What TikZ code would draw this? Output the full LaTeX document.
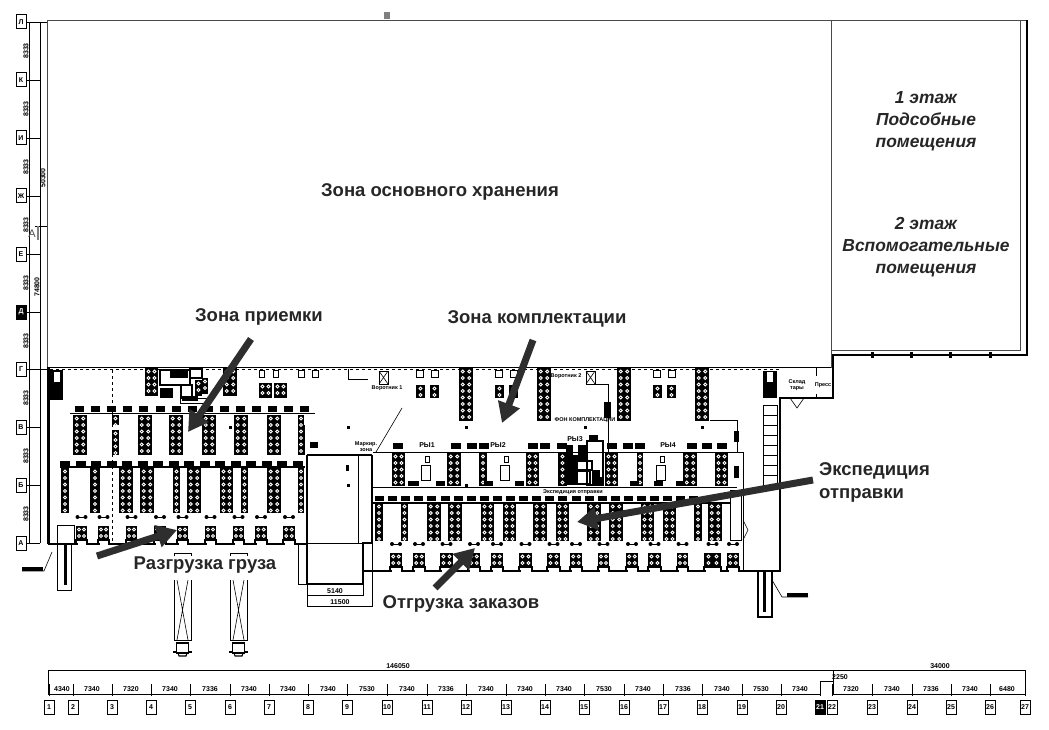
\documentclass[tikz,border=0pt]{standalone}
\usepackage{fontspec}
\setmainfont{Liberation Sans}
\usetikzlibrary{arrows.meta}

\definecolor{arrowgray}{HTML}{2E2E2E}
\definecolor{wallgray}{HTML}{4A4A4A}

\tikzset{
  zonelabel/.style = {font=\fontsize{18.5}{21}\selectfont\bfseries, text=black!85, inner sep=0pt},
  floorlabel/.style = {font=\fontsize{17.4}{19}\selectfont\bfseries\itshape, text=black!85, inner sep=0pt},
  tinylabel/.style = {font=\fontsize{5.5}{6}\selectfont\bfseries, inner sep=0pt},
  dimlabel/.style = {font=\fontsize{7}{8}\selectfont\bfseries, inner sep=0pt},
  axisbox/.style = {rectangle, draw, line width=1pt, minimum width=10pt, minimum height=14pt,
                    inner sep=0pt, font=\fontsize{7}{8}\selectfont\bfseries},
  axisdark/.style = {axisbox, fill=black, text=white},
  wall/.style = {line width=2.2pt, line join=miter},
  thinline/.style = {line width=0.6pt},
  bigarrow/.style = {line width=7pt, arrowgray, -{Triangle[length=20pt,width=22pt]}, shorten >=0pt}
}

% stack of pallets: x, y, width, height
\newcommand{\rackblock}[4]{%
  \fill (#1,#2) rectangle ++(#3,#4);
  \ifdim #3pt>10pt
    \foreach \dy in {3.5,10,...,#4}
      \foreach \dx in {0.27,0.73}
        \draw[white,line width=0.9pt] (#1+\dx*#3,#2+\dy) circle (1.5pt);
  \else
    \foreach \dy in {3.5,10,...,#4}
      \draw[white,line width=0.9pt] (#1+0.5*#3,#2+\dy) circle (1.5pt);
  \fi
}

% dock with its two posts and the step in the wall: x, y, width
\newcommand{\dockblock}[3]{%
  \fill[white] (#1+1.5,#2+15) rectangle ++(#3-3,5);
  \rackblock{#1}{#2}{#3}{15}
  \draw[line width=1.8pt] (#1,#2+13) -- (#1,#2+18) (#1+#3,#2+13) -- (#1+#3,#2+18);
  \fill (#1+0.5*#3-4,#2-9) circle (2pt) (#1+0.5*#3+4,#2-9) circle (2pt);
  \draw[thinline] (#1+0.5*#3-4,#2-9) -- (#1+0.5*#3+4,#2-9);
}

% truck at a gate
\newcommand{\truckbay}[1]{%
  \draw[thinline] (#1,556) -- (#1,553) -- (#1+17,553) -- (#1+17,556);
  \draw[thinline,line width=0.9pt] (#1,580) -- (#1,640) -- (#1+17,640) -- (#1+17,580);
  \draw[thinline] (#1+3,580) -- (#1+14,640) (#1+14,580) -- (#1+3,640);
  \draw[line width=1.1pt] (#1+2.5,643) rectangle (#1+14.5,653);
  \draw[line width=1.1pt] (#1+4,653) -- (#1+5,656) -- (#1+12,656) -- (#1+13,653);
  \draw[line width=1.1pt] (#1-1,652) -- (#1+2.5,652) (#1+14.5,652) -- (#1+18,652);
}

\begin{document}
\begin{tikzpicture}[x=1pt,y=-1pt]
  \useasboundingbox (0,0) rectangle (1049,730);

  % storage hall and side block
  \node[rectangle,
        draw = wallgray,
        line width = 0.8pt,
        outer sep = 0pt,
        minimum width = 784pt,
        minimum height = 347pt] (store) at (439,193.5) {};
  \node[zonelabel] at (440,192) {Зона основного хранения};

  \node[rectangle,
        draw = wallgray,
        line width = 0.8pt,
        outer sep = 0pt,
        minimum width = 189pt,
        minimum height = 330pt] (rooms) at (926,185) {};
  \node[floorlabel,align=center] (floorA) at (926,121) {1 этаж\\[3pt]Подсобные\\[3pt]помещения};
  \node[floorlabel,align=center] (floorB) at (926,247) {2 этаж\\[3pt]Вспомогательные\\[3pt]помещения};

  \draw[line width=0.8pt,wallgray] (rooms.north east) -- (1027,20);
  \draw[wall] (1027,20) -- (1027,355) -- (833,355) -- (833,398) -- (780,398) -- (780,571) -- (363,571);
  \foreach \x in {872,911,950,990}
    \fill (\x-1.5,352) rectangle ++(3,6);
  \fill[gray] (384,12) rectangle ++(6,7);

  % outer walls of the ground floor
  \draw[line width=0.7pt] (47,367) -- (47,544);
  \draw[wall] (49,367) -- (49,544) -- (308,544);
  \draw[wall] (307,455) -- (372,455);
  \draw[wall] (307,455) -- (307,584) -- (363,584) -- (363,543) -- (372,543) -- (372,455);
  \draw[thinline] (307,543) -- (363,543);
  \draw[thinline] (358,455) -- (358,543);
  \draw[thinline] (298,544) -- (298,584) -- (307,584);
  \draw[thinline] (307,584) -- (307,595) -- (363,595) -- (363,584);
  \draw[thinline] (307,595) -- (307,606) -- (372,606) -- (372,543);
  \node[dimlabel] (dimC) at (335,591) {5140};
  \node[dimlabel] (dimD) at (340,602) {11500};
  \fill (346,465) rectangle ++(3,6);
  \draw[dashed,line width=0.9pt] (50,369.5) -- (780,369.5);
  \draw[line width=0.8pt] (47,367) -- (831,367);
  \draw[dashed,thinline] (112,370) -- (112,543);
  \foreach \x/\y in {230/427,348/427,466/427,585/427,702/427,348/485,466/485}
    \fill (\x-1.5,\y-1.5) rectangle ++(3,3);

  % upper part, left
  \foreach \x/\w in {145/13,223/14}{
    \rackblock{\x}{368}{\w}{28}
  }
  \foreach \x/\w in {259/5,273/5,298/6,312/6}
    \draw[line width=1pt] (\x,370) rectangle ++(\w,7);
  \foreach \x in {259,274}{
    \rackblock{\x}{383}{13}{15}
  }
  \fill (50,370) rectangle (63,400);
  \fill[white] (54,372) rectangle (60,382);
  \fill (160,388) rectangle (173,398);
  \draw[line width=1.2pt] (160,370) rectangle (190,385);
  \fill (170,371) rectangle (188,378);
  \draw[line width=1.2pt] (190,369) rectangle (202,378);
  \draw[line width=1.2pt] (181,385) rectangle (192,398);
  \draw[line width=0.8pt] (180,398) rectangle (207,403);
  \fill (182,396) rectangle (198,401);
  \rackblock{195}{380}{7}{16}
  \rackblock{202}{378}{6}{16}

  % left zone, first row
  \draw[line width=1pt] (70,413) -- (315,413);
  \foreach \n in {0,...,14}
    \fill (75+\n*16.1,406) rectangle ++(9,6);
  \foreach \x/\w in {73/14,138/14,169/14,202/14,234/14,267/14,298/6}{
    \rackblock{\x}{415}{\w}{40}
  }
  \rackblock{112}{430}{7}{25}
  \rackblock{112}{415}{7}{10}

  % left zone, second row
  \draw[line width=2pt] (60,467) -- (305,467);
  \foreach \n in {0,...,15}
    \fill (60+\n*15.5,461) rectangle ++(10,5);
  \foreach \x/\w in {61/8,90/10,119/14,140/14,173/7,187/14,220/13,241/7,267/14,298/6}{
    \rackblock{\x}{468}{\w}{45}
  }

  % left docks
  \foreach \x/\w in {76/11,98/11,126/11,154/12,177/11,205/11,233/11,255/12,283/12}{
    \dockblock{\x}{526}{\w}
  }
  \draw[thinline] (57,525) rectangle (74,543);
  \draw[line width=1pt] (57,544) rectangle (71,590);
  \fill (64,545) rectangle ++(3,40);
  \draw[thinline] (22,571) -- (44,571) -- (52,552);
  \fill (22,567) rectangle ++(21,4);
  \draw[thinline] (304,425) -- (304,455);
  \fill (310,442) rectangle ++(8,6);

  % upper part, right
  \foreach \x in {459,537,617,695}{
    \rackblock{\x}{368}{14}{53}
  }
  \foreach \x in {416,495,653}{
    \draw[line width=1pt] (\x,370) rectangle ++(7,7);
    \draw[line width=1pt] (\x+15,370) rectangle ++(7,7);
    \rackblock{\x}{385}{9}{13}
    \rackblock{\x+14}{385}{9}{13}
  }
  \draw[line width=1pt] (348,369) -- (348,379) -- (368,379);
  \draw[line width=1pt] (379,371) rectangle (388,384);
  \draw[thinline] (379,371) -- (388,384) (388,371) -- (379,384);
  \draw[line width=1pt] (586,371) rectangle (595,384);
  \draw[thinline] (586,371) -- (595,384) (595,371) -- (586,384);
  \draw[thinline] (595,384) -- (608,384) -- (608,452);
  \fill (604,402) rectangle ++(7,16);
  \draw[thinline] (710,420) -- (737,420) -- (737,452);
  \fill (734,431) rectangle ++(5,11);
  \fill (734,466) rectangle ++(5,12);
  \node[tinylabel] (gateA) at (387,388) {Воротник 1};
  \node[tinylabel] (gateB) at (566,376) {Воротник 2};
  \node[tinylabel] (lobby) at (585,420) {ФОН КОМПЛЕКТАЦИИ};
  \node[tinylabel,align=center] (mark) at (366,447) {Маркир.\\зона};
  \draw[thinline] (376,452) -- (402,408);

  % right zone, first row
  \draw[line width=1pt] (373,452) -- (743,452) -- (743,571);
  \draw[line width=1pt] (373,487) -- (737,487);
  \foreach \x in {393,451,467,479,528,540,557,607,623,635,687,702,717}
    \fill (\x,443) rectangle ++(10,6);
  \foreach \x/\w in {392/13,447/14,479/8,526/13,558/9,605/13,637/6,683/14,715/13}{
    \rackblock{\x}{453}{\w}{33}
  }
  \foreach \x in {408,436,410,484,515,630,654,676}
    \fill (\x,481) rectangle ++(9,5);
  \node[dimlabel] (rowA) at (427,445) {РЫ1};
  \node[dimlabel] (rowB) at (498,445) {РЫ2};
  \node[dimlabel] (rowC) at (575,439) {РЫ3};
  \node[dimlabel] (rowD) at (668,445) {РЫ4};
  \foreach \x in {425,504,660}{
    \draw[line width=0.8pt] (\x,456) rectangle ++(4,6);
    \draw[line width=0.8pt] (\x-4,465) rectangle ++(9,15);
  }

  % packing stations in the middle
  \fill (567,455) rectangle (578,485);
  \draw[line width=1.2pt] (572,461) rectangle (592,470);
  \draw[line width=1.2pt] (587,441) rectangle (603,485);
  \fill (589,435) rectangle (598,441);
  \draw[line width=1.2pt] (577,471) rectangle (590,484);
  \fill (592,470) rectangle (600,484);
  \fill (566,445) rectangle (573,455);
  \fill (578,445) rectangle (586,460);
  \fill (593,477) rectangle (604,486);
  \node[tinylabel] (expedit) at (573,492) {Экспедиция отправки};

  % right zone, second row
  \draw[line width=2pt] (373,503) -- (730,503);
  \foreach \n in {0,...,24}
    \fill (375+\n*13.1,496) rectangle ++(9,5);
  \foreach \x/\w in {375/8,401/7,427/14,448/14,481/13,503/13,533/14,556/13,587/14,609/14,641/13,663/13,694/8,708/14}{
    \rackblock{\x}{503}{\w}{38}
  }

  % right docks
  \foreach \x/\w in {390/12,413/12,440/13,468/12,491/12,519/13,547/13,570/12,598/11,626/12,648/13,677/11,704/17,727/12}{
    \dockblock{\x}{553}{\w}
  }

  % right side rooms
  \fill (763,371) rectangle (777,398);
  \fill[white] (767,372) rectangle (773,382);
  \draw[line width=1pt] (763,405) rectangle (777,488);
  \foreach \y in {415,425,435,445,455,465,475}
    \draw[thinline] (763,\y) -- (777,\y);
  \draw[line width=1.2pt] (758,571) rectangle (772,617);
  \fill (763,572) rectangle ++(3,40);
  \draw[thinline] (772,580) -- (782,597) -- (808,597);
  \fill (787,593) rectangle ++(21,4);
  \draw[thinline] (743,520) -- (748,530) -- (743,540);
  \draw[thinline] (741,490) rectangle (730,540);
  \node[tinylabel,align=center] (tare) at (797,385) {Склад\\тары};
  \node[tinylabel] (press) at (823,385) {Пресс};
  \draw[thinline] (816,367) -- (816,376) (816,394) -- (816,398);
  \draw[thinline] (790,398) -- (797,408) -- (804,398);

  % trucks
  \truckbay{174}
  \truckbay{230}

  % axes on the left
  \draw[line width=0.8pt] (29,22) -- (29,543);
  \draw[line width=0.8pt] (40,22) -- (40,543);
  \draw[line width=0.8pt] (29,22) -- (47,22);
  \draw[line width=0.8pt] (29,369) -- (47,369);
  \foreach \name/\ypos in {Л/22,К/80,И/138,Ж/196,Е/254,Г/369,В/427,Б/485,А/543}{
    \node[axisbox] (ax\ypos) at (21,\ypos) {\name};
    \draw[line width=0.8pt] (ax\ypos) -- (40,\ypos);
  }
  \node[axisdark] (ax312) at (21,312) {Д};
  \draw[line width=0.8pt] (ax312) -- (40,312);
  \foreach \ypos in {51,109,167,225,283,341,398,456,514}
    \node[dimlabel,rotate=90] at (26,\ypos) {8333};
  \node[dimlabel,rotate=90] (dimE) at (43,178) {50300};
  \node[dimlabel,rotate=90] (dimF) at (37,287) {74800};
  \node[font=\fontsize{11}{12}\selectfont,text=black!70,inner sep=0pt] (cutA) at (32,234) {А};
  \draw[thinline] (35,226) -- (47,226);
  \draw[line width=1.2pt,gray] (38,226) -- (38,240);

  % axes at the bottom
  \draw[line width=0.8pt] (48,670) -- (1025,670);
  \draw[line width=0.8pt] (48,694) -- (820,694);
  \draw[line width=0.8pt] (833,694) -- (1025,694);
  \draw[line width=0.8pt] (48,670) -- (48,694);
  \draw[line width=0.8pt] (1025,670) -- (1025,694);
  \draw[line width=0.8pt] (833,670) -- (833,694);
  \draw[line width=0.8pt] (820,694) -- (820,681) -- (833,681);
  \foreach \name/\xpos in {1/49,2/73,3/112,4/151,5/190,6/230,7/269,8/308,9/347,10/387,11/427,12/466,13/506,14/545,15/584,16/624,17/663,18/702,19/742,20/781,22/832,23/872,24/912,25/951,26/990,27/1025}{
    \node[axisbox] (bx\xpos) at (\xpos,707) {\name};
    \draw[line width=0.8pt,shorten >=4pt] (\xpos,684) -- (bx\xpos);
  }
  \node[axisdark] (bx820) at (820,707) {21};
  \draw[line width=0.8pt,shorten >=4pt] (820,684) -- (bx820);
  \foreach \txt/\xpos in {4340/62,7340/92,7320/131,7340/170,7336/210,7340/249,7340/288,7340/328,7530/367,7340/407,7336/446,7340/486,7340/525,7340/564,7530/604,7340/643,7336/683,7340/722,7530/761,7340/800,7320/851,7340/892,7336/931,7340/970,6480/1007}
    \node[dimlabel] at (\xpos,689) {\txt};
  \node[dimlabel] (dimA) at (398,666) {146050};
  \node[dimlabel] (dimB) at (940,666) {34000};
  \node[dimlabel] (dimG) at (840,677) {2250};

  % labels with their arrows
  \node[zonelabel] (intake) at (259,317) {Зона приемки};
  \node[zonelabel] (picking) at (537,319) {Зона комплектации};
  \node[zonelabel,align=left,anchor=west] (dispatch) at (819,482) {Экспедиция\\[2pt]отправки};
  \node[zonelabel] (unload) at (205,565) {Разгрузка груза};
  \node[zonelabel] (shipping) at (461,604) {Отгрузка заказов};

  \coordinate (intakeA) at (251,339);
  \coordinate (intakeB) at (188,432);
  \coordinate (pickingA) at (533,340);
  \coordinate (pickingB) at (502,423);
  \coordinate (dispatchA) at (813,480);
  \coordinate (dispatchB) at (577,522);
  \coordinate (unloadA) at (97,556);
  \coordinate (unloadB) at (177,530);
  \coordinate (shippingA) at (435,588);
  \coordinate (shippingB) at (475,548);
  \draw[bigarrow] (intakeA) -- (intakeB);
  \draw[bigarrow] (pickingA) -- (pickingB);
  \draw[bigarrow] (dispatchA) -- (dispatchB);
  \draw[bigarrow] (unloadA) -- (unloadB);
  \draw[bigarrow] (shippingA) -- (shippingB);

\end{tikzpicture}
\end{document}
